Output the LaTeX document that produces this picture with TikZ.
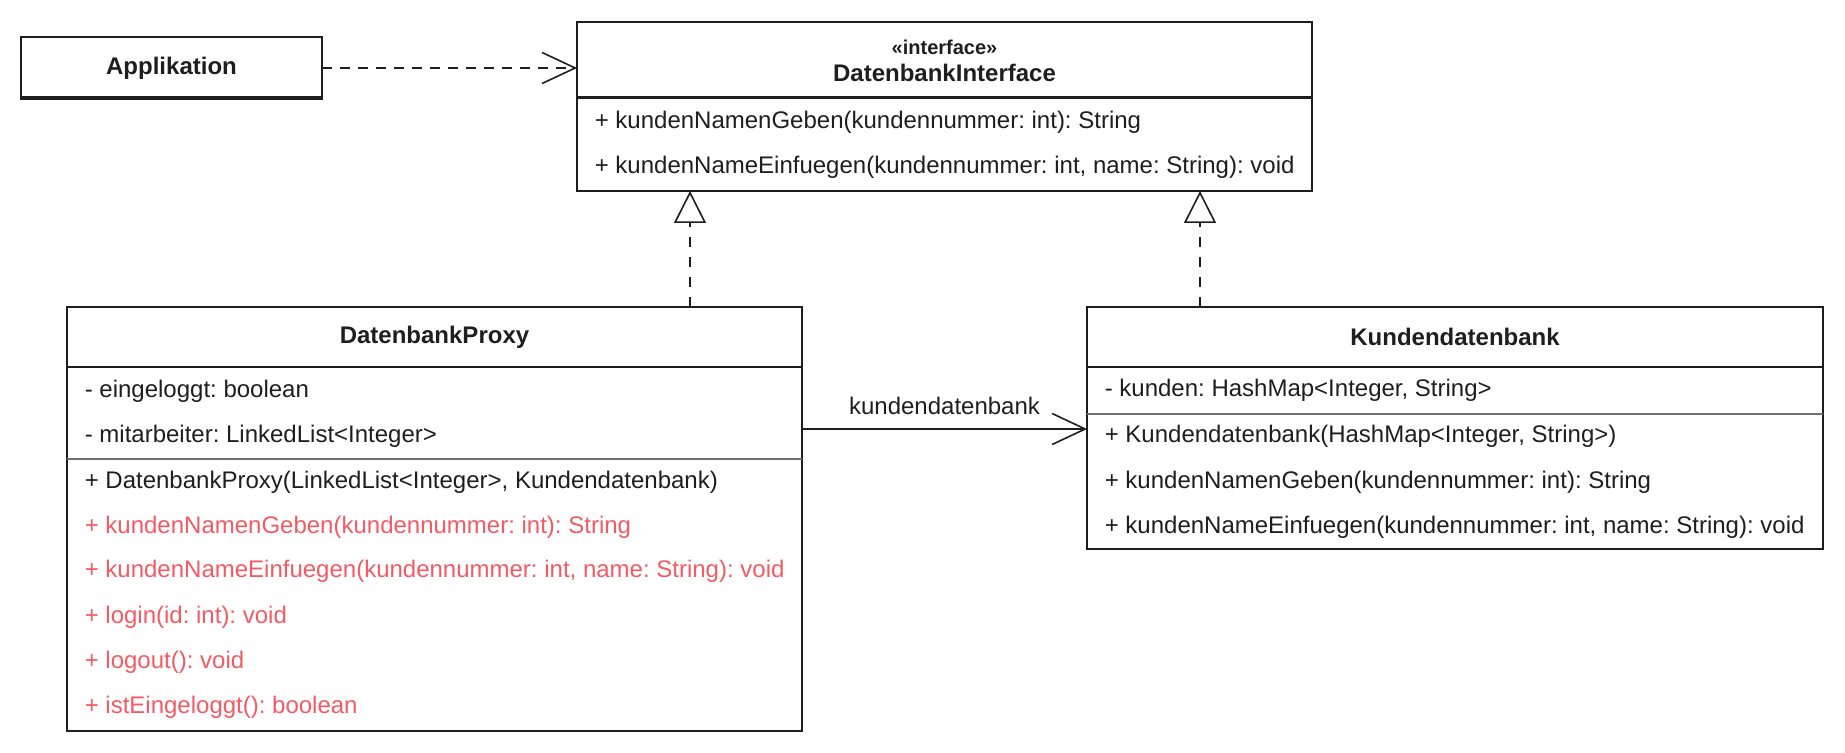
\documentclass[tikz,border=0pt]{standalone}
\usepackage{fontspec}
\setmainfont{Liberation Sans}
\usetikzlibrary{arrows.meta}

\definecolor{inkgray}{RGB}{30,30,30}
\definecolor{proxyred}{RGB}{245,90,100}
\definecolor{rulegray}{RGB}{110,110,110}

\begin{document}
\frenchspacing
\begin{tikzpicture}[x=0.5pt, y=-0.5pt, line width=0.8pt, color=inkgray,
    font=\fontsize{12}{14}\selectfont,
    classbox/.style={draw, rectangle, inner sep=0pt, outer sep=0pt},
    member/.style={anchor=west, inner sep=0pt, text height=8.6pt, text depth=2.5pt, yshift=-1pt},
    redmember/.style={member, text=proxyred},
    classname/.style={inner sep=0pt, font=\fontsize{12}{14}\selectfont\bfseries},
    stereo/.style={inner sep=0pt, font=\fontsize{10}{12}\selectfont\bfseries},
    thickrule/.style={line width=1.5pt},
    softrule/.style={rulegray, line width=1.1pt},
    depends/.style={dash pattern=on 5pt off 4pt, -{Straight Barb[length=16.5pt,width=15.5pt]}},
    realizes/.style={dash pattern=on 5pt off 5pt, -{Triangle[open,length=16pt,width=16pt]}},
    assoc/.style={-{Straight Barb[length=16.5pt,width=15.5pt]}}]
  \useasboundingbox (0,0) rectangle (1845,753);

  % Applikation
  \node[classbox, minimum width=150.5pt, minimum height=31pt] (app) at (171.5,68) {};
  \node[classname] (appname) at (app) {Applikation};
  \draw[thickrule] ([yshift=0.7pt]app.south west) -- ([yshift=0.7pt]app.south east);

  % DatenbankInterface
  \node[classbox, minimum width=367.5pt, minimum height=84.5pt] (iface) at (944.5,106.5) {};
  \node[stereo] (istereo) at (944.5,47) {«interface»};
  \node[classname] (iname) at (944.5,73) {DatenbankInterface};
  \draw[thickrule] (iface.west |- 0,98) -- (iface.east |- 0,98);
  \node[member] (im1) at (594,120) {+ kundenNamenGeben(kundennummer: int): String};
  \node[member] (im2) at (594,165) {+ kundenNameEinfuegen(kundennummer: int, name: String): void};

  % DatenbankProxy
  \node[classbox, minimum width=367.5pt, minimum height=212pt] (proxy) at (434.5,519) {};
  \node[classname] (pname) at (434.5,337) {DatenbankProxy};
  \draw (proxy.west |- 0,367) -- (proxy.east |- 0,367);
  \node[member] (pa1) at (84,389) {- eingeloggt: boolean};
  \node[member] (pa2) at (84,434) {- mitarbeiter: LinkedList<Integer>};
  \draw[softrule] (proxy.west |- 0,459) -- (proxy.east |- 0,459);
  \node[member] (pm1) at (84,480) {+ DatenbankProxy(LinkedList<Integer>, Kundendatenbank)};
  \node[redmember] (pm2) at (84,525) {+ kundenNamenGeben(kundennummer: int): String};
  \node[redmember] (pm3) at (84,569) {+ kundenNameEinfuegen(kundennummer: int, name: String): void};
  \node[redmember] (pm4) at (84,615) {+ login(id: int): void};
  \node[redmember] (pm5) at (84,660) {+ logout(): void};
  \node[redmember] (pm6) at (84,705) {+ istEingeloggt(): boolean};

  % Kundendatenbank
  \node[classbox, minimum width=368pt, minimum height=121pt] (kunden) at (1455,428) {};
  \node[classname] (kname) at (1455,337) {Kundendatenbank};
  \draw (kunden.west |- 0,367) -- (kunden.east |- 0,367);
  \node[member] (ka1) at (1104,388) {- kunden: HashMap<Integer, String>};
  \draw[softrule] (kunden.west |- 0,414) -- (kunden.east |- 0,414);
  \node[member] (km1) at (1104,434) {+ Kundendatenbank(HashMap<Integer, String>)};
  \node[member] (km2) at (1104,480) {+ kundenNamenGeben(kundennummer: int): String};
  \node[member] (km3) at (1104,525) {+ kundenNameEinfuegen(kundennummer: int, name: String): void};

  % connectors
  \coordinate (rproxy) at (690,0);
  \coordinate (rkunden) at (1200,0);
  \coordinate (rassoc) at (0,429);
  \draw[depends] (app.east) -- (app.east -| iface.west);
  \draw[realizes] (proxy.north -| rproxy) -- (iface.south -| rproxy);
  \draw[realizes] (kunden.north -| rkunden) -- (iface.south -| rkunden);
  \draw[assoc] (proxy.east |- rassoc) -- (kunden.west |- rassoc)
    node[midway, above=4.5pt, inner sep=0pt, text height=8.6pt, text depth=2.5pt] (alabel) {kundendatenbank};
\end{tikzpicture}
\end{document}
